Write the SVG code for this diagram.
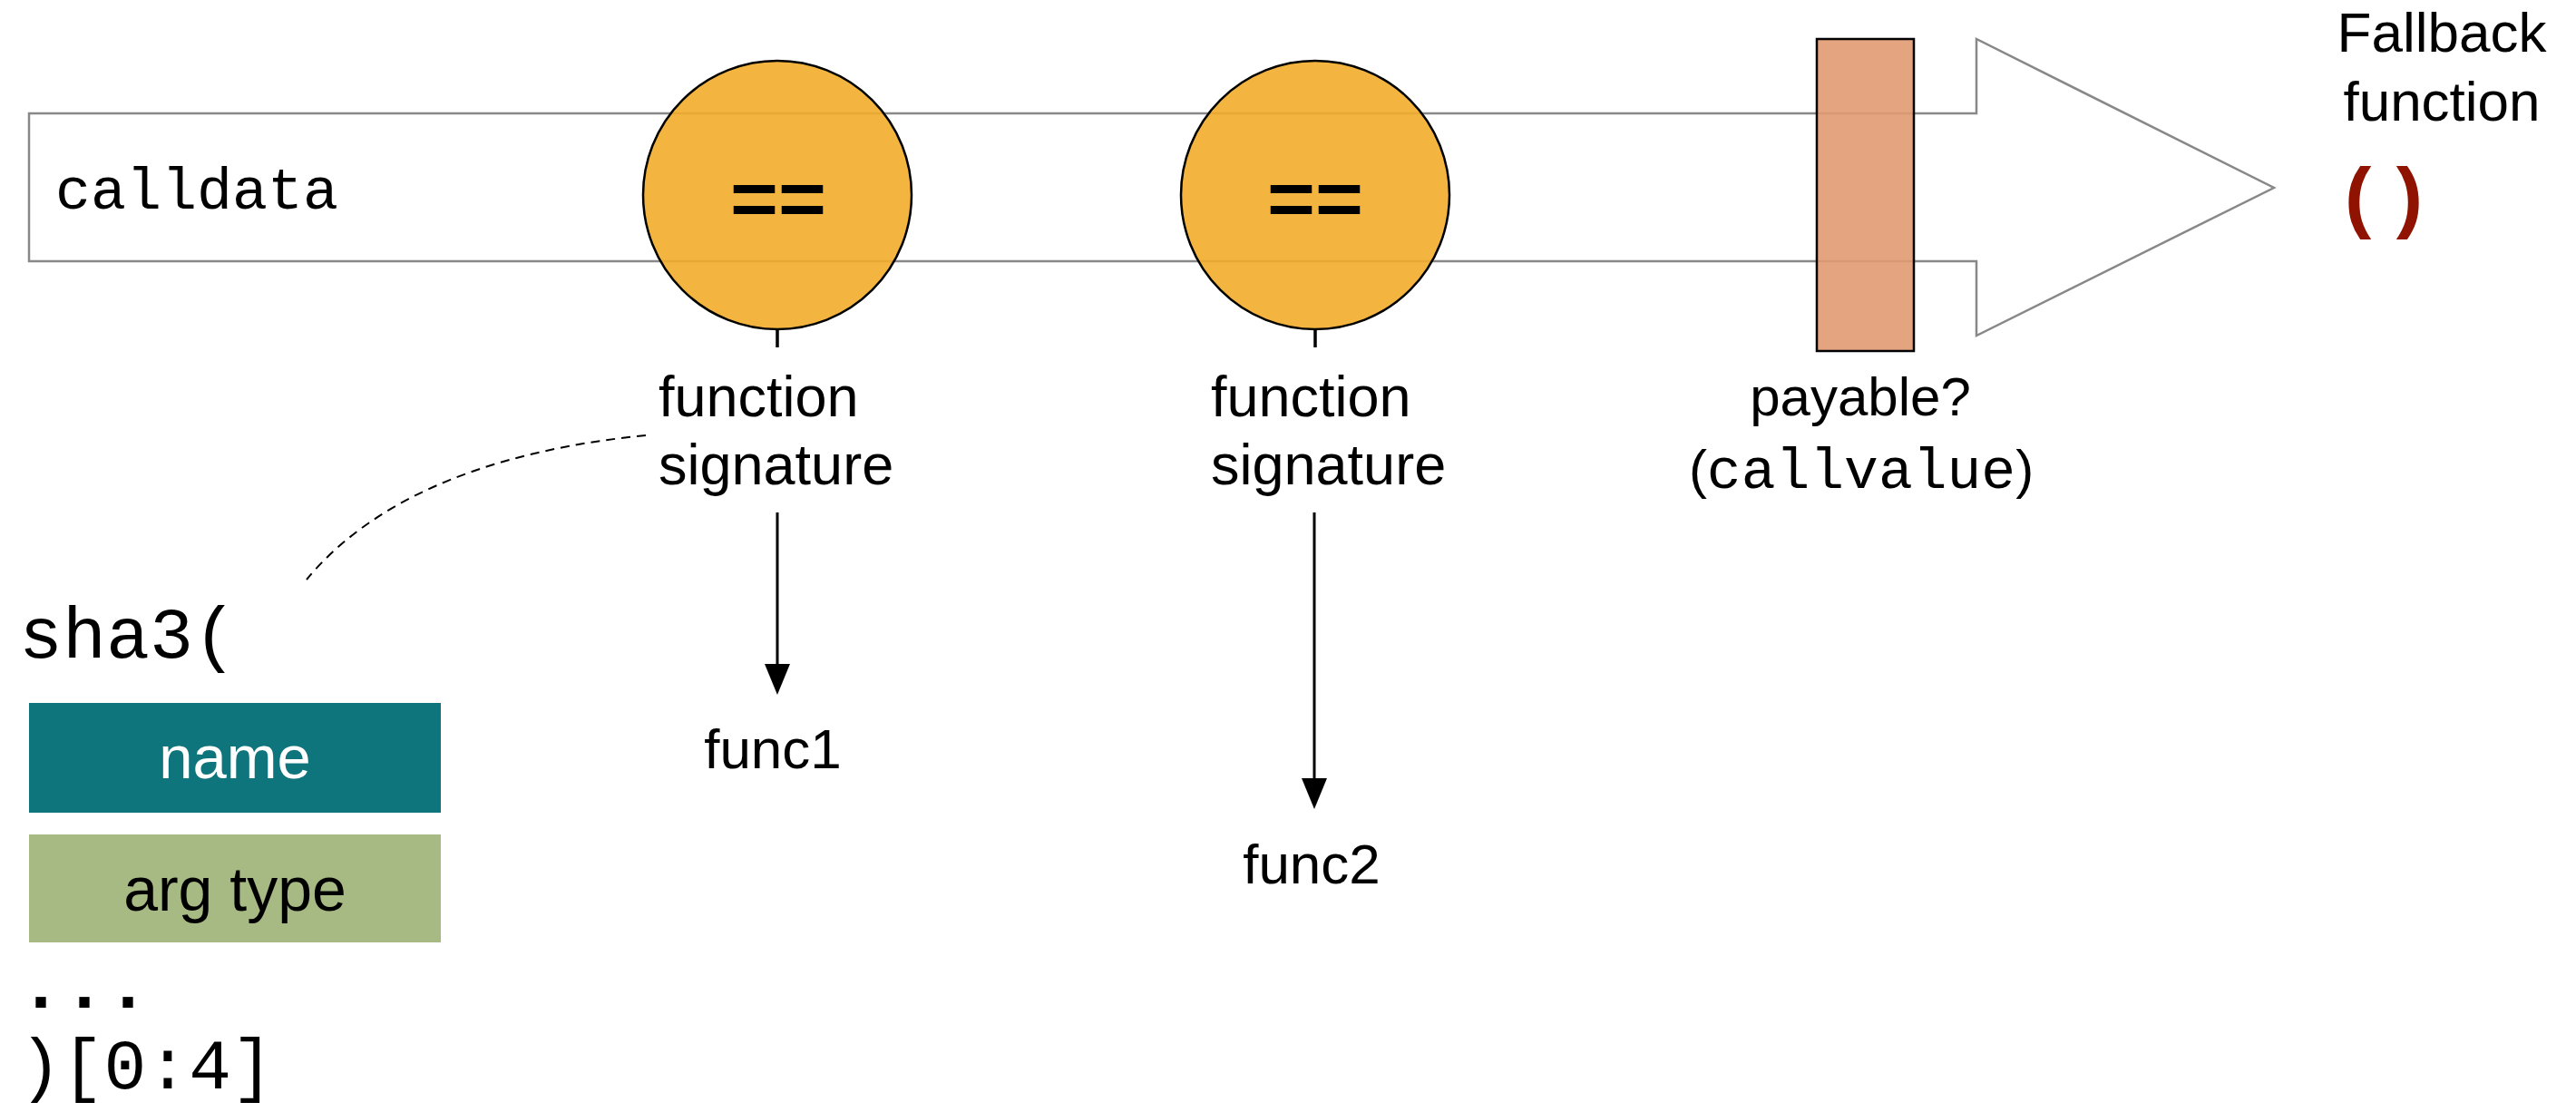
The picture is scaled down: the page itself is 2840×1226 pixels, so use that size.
<svg xmlns="http://www.w3.org/2000/svg" width="2840" height="1226" viewBox="0 0 2840 1226">
  <style>
    .sans { font-family: "Liberation Sans", Arial, Helvetica, sans-serif; fill: #000; }
    .mono { font-family: "Liberation Mono", "Courier New", monospace; fill: #000; }
    .label { font-size: 63px; }
    .cmp { fill: #F2AD2A; fill-opacity: 0.9; stroke: #000; stroke-width: 2.5; }
    .eq { font-family: "Liberation Sans", Arial, sans-serif; font-weight: bold; font-size: 84px; text-anchor: middle; }
    .tick { stroke: #000; stroke-width: 3.5; }
    .link { stroke: #000; stroke-width: 3; fill: none; }
  </style>
  <defs>
    <marker id="head" markerUnits="userSpaceOnUse" markerWidth="34" markerHeight="28" refX="0" refY="14" orient="auto">
      <path d="M0,0 L34,14 L0,28 Z" fill="#000"/>
    </marker>
  </defs>

  <rect width="2840" height="1226" fill="#fff"/>

  <!-- big flow arrow carrying the calldata -->
  <g id="calldata-arrow">
    <polygon points="32,125 2179,125 2179,43 2507,207 2179,370 2179,288 32,288" fill="#fff" stroke="#888" stroke-width="2.5"/>
    <text class="mono" x="61" y="230" font-size="65">calldata</text>
  </g>

  <!-- first comparison -->
  <g id="compare1">
    <circle class="cmp" cx="857" cy="215" r="148"/>
    <text class="eq" x="858" y="248" textLength="106" lengthAdjust="spacingAndGlyphs">==</text>
  </g>

  <!-- second comparison -->
  <g id="compare2">
    <circle class="cmp" cx="1450" cy="215" r="148"/>
    <text class="eq" x="1450" y="248" textLength="106" lengthAdjust="spacingAndGlyphs">==</text>
  </g>

  <!-- payable check -->
  <g id="payable">
    <rect x="2003" y="43" width="107" height="344" fill="#E19A72" fill-opacity="0.9" stroke="#000" stroke-width="2.5"/>
    <text class="sans" x="2051" y="458" font-size="60" text-anchor="middle">payable?</text>
    <text class="sans" x="2052" y="538" font-size="60" text-anchor="middle">(<tspan class="mono" font-size="63">callvalue</tspan>)</text>
  </g>

  <!-- fallback -->
  <g id="fallback">
    <text class="sans" x="2692" y="57" font-size="62" text-anchor="middle">Fallback</text>
    <text class="sans" x="2692" y="133" font-size="62" text-anchor="middle">function</text>
    <text x="2628" y="246" font-family="Liberation Sans, Arial, sans-serif" font-weight="bold" font-size="88" fill="#8F1300" text-anchor="middle" textLength="86" lengthAdjust="spacing">( )</text>
  </g>

  <!-- signature labels -->
  <g id="signature1">
    <text class="sans label" x="726" y="459">function</text>
    <text class="sans label" x="726" y="534">signature</text>
  </g>
  <g id="signature2">
    <text class="sans label" x="1335" y="459">function</text>
    <text class="sans label" x="1335" y="534">signature</text>
  </g>

  <!-- targets -->
  <g id="func1">
    <text class="sans" x="852" y="847" font-size="62" text-anchor="middle">func1</text>
  </g>
  <g id="func2">
    <text class="sans" x="1446" y="974" font-size="62" text-anchor="middle">func2</text>
  </g>

  <!-- how the signature is computed -->
  <g id="sha3">
    <text class="mono" x="21" y="725" font-size="80">sha3(</text>
    <rect x="32" y="775" width="454" height="121" fill="#0E757D"/>
    <text class="sans" x="259" y="858" font-size="67" text-anchor="middle" style="fill:#fff">name</text>
    <rect x="32" y="920" width="454" height="119" fill="#A8BA84"/>
    <text class="sans" x="259" y="1004" font-size="68" text-anchor="middle">arg type</text>
    <text class="mono" x="21" y="1111" font-size="80" font-weight="bold">...</text>
    <text class="mono" x="21" y="1200" font-size="78">)[0:4]</text>
  </g>

  <!-- connectors -->
  <g id="connectors">
    <line class="tick" x1="857" y1="363" x2="857" y2="383"/>
    <line class="tick" x1="1450" y1="363" x2="1450" y2="383"/>
    <line class="link" x1="857" y1="565" x2="857" y2="732" marker-end="url(#head)"/>
    <line class="link" x1="1449" y1="565" x2="1449" y2="858" marker-end="url(#head)"/>
    <path d="M712,480 C560,495 420,540 338,639" fill="none" stroke="#000" stroke-width="2" stroke-dasharray="10 7"/>
  </g>
</svg>
